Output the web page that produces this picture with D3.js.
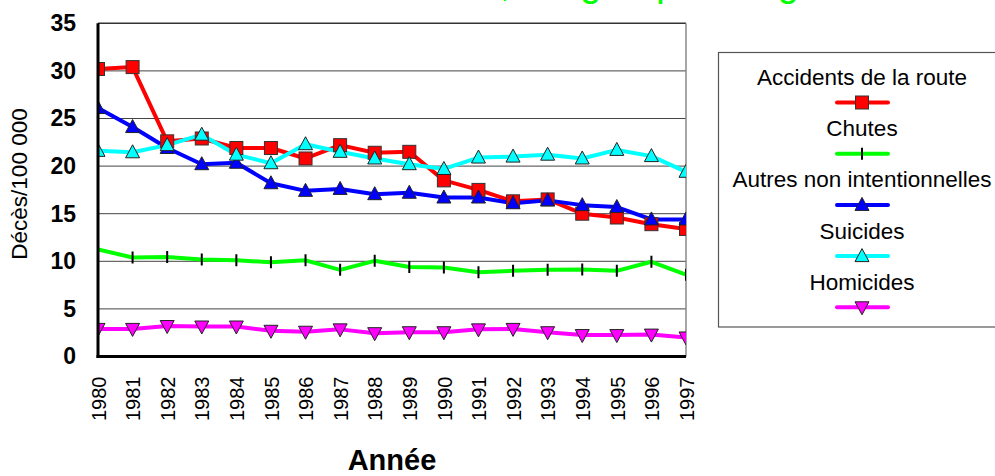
<!DOCTYPE html>
<html><head><meta charset="utf-8">
<script src="https://cdn.jsdelivr.net/npm/d3@7/dist/d3.min.js"></script>
<style>body{margin:0;background:#fff}svg{display:block}text{font-family:"Liberation Sans",Arial,sans-serif}</style>
</head><body>
<svg id="c" width="995" height="476"></svg>
<script>
const years = [1980,1981,1982,1983,1984,1985,1986,1987,1988,1989,1990,1991,1992,1993,1994,1995,1996,1997];
const accidentsRoute = [30.2,30.4,22.6,22.9,21.9,21.9,20.8,22.2,21.4,21.5,18.5,17.5,16.3,16.5,15.0,14.6,13.9,13.4];
const chutes = [11.25,10.4,10.45,10.2,10.1,9.9,10.1,9.1,10.05,9.4,9.35,8.85,9.0,9.1,9.15,9.0,9.95,8.6];
const autresNonIntent = [26.1,24.1,21.9,20.2,20.35,18.2,17.4,17.6,17.05,17.2,16.7,16.7,16.1,16.4,15.9,15.7,14.4,14.4];
const suicides = [21.6,21.45,22.2,23.3,21.2,20.3,22.3,21.5,20.8,20.2,19.7,20.9,21.0,21.2,20.8,21.7,21.05,19.4];
const homicides = [2.9,2.9,3.2,3.15,3.15,2.7,2.6,2.85,2.45,2.55,2.55,2.85,2.9,2.55,2.25,2.25,2.3,2.0];
const yTicks = [0,5,10,15,20,25,30,35];
const seriesNames = ["Accidents de la route","Chutes","Autres non intentionnelles","Suicides","Homicides"];
const titleText = "Décès dus aux blessures, les groupes d'âge";
const yTitle = "Décès/100 000";
const xTitle = "Année";

const series = [
  {name: seriesNames[0], values: accidentsRoute, color: "#ff0000", marker: "square"},
  {name: seriesNames[1], values: chutes, color: "#00ff00", marker: "tick"},
  {name: seriesNames[2], values: autresNonIntent, color: "#0000ff", marker: "up"},
  {name: seriesNames[3], values: suicides, color: "#00ffff", marker: "up"},
  {name: seriesNames[4], values: homicides, color: "#ff00ff", marker: "down"}
];

const svg = d3.select("#c");
const L = 98, R = 686, T = 23.3, B = 356.5;
const x = d3.scaleLinear().domain([years[0], years[years.length-1]]).range([L, R]);
const y = d3.scaleLinear().domain([0, 35]).range([B, T]);

// title (mostly cut off above the image, as in the reference)
const tt = svg.append("text").attr("y", -4).attr("font-size", 38).attr("fill", "#00ff00").text(titleText);
const ci = titleText.indexOf(",");
const pre = tt.node().getSubStringLength(0, ci);
tt.attr("x", 500 - pre);

// gridlines
svg.append("g").selectAll("line").data(yTicks.filter(d => d > 0 && d < 35)).join("line")
  .attr("x1", L).attr("x2", R).attr("y1", d => y(d)).attr("y2", d => y(d))
  .attr("stroke", "#444").attr("stroke-width", 1);
// frame
svg.append("line").attr("x1", L).attr("x2", R).attr("y1", y(35)).attr("y2", y(35)).attr("stroke", "#333").attr("stroke-width", 1.5);
svg.append("line").attr("x1", R).attr("x2", R).attr("y1", y(35)).attr("y2", B).attr("stroke", "#888").attr("stroke-width", 1.5);

// y axis labels
const yAxis = d3.axisLeft(y).tickValues(yTicks).tickSize(0).tickPadding(22).tickFormat(d3.format("d"));
const ya = svg.append("g").attr("transform", `translate(${L},0)`).call(yAxis);
ya.select(".domain").remove();
ya.selectAll("text").attr("font-size", 23).attr("font-weight", "bold").attr("fill", "#000")
  .style("font-family", '"Liberation Sans",Arial,sans-serif');

// x axis labels
const xAxis = d3.axisBottom(x).tickValues(years).tickSize(0).tickFormat(d3.format("d"));
const xa = svg.append("g").attr("transform", `translate(0,${B})`).call(xAxis);
xa.select(".domain").remove();
xa.selectAll("text").attr("font-size", 20).attr("fill", "#000")
  .style("font-family", '"Liberation Sans",Arial,sans-serif')
  .attr("text-anchor", "end").attr("transform", "rotate(-90)")
  .attr("x", -20).attr("y", 0).attr("dy", "0.36em");

// clip
svg.append("clipPath").attr("id", "clip").append("rect").attr("x", L).attr("y", T - 10).attr("width", R - L).attr("height", B - T + 10);

const plot = svg.append("g").attr("clip-path", "url(#clip)");
const line = d3.line().x((d, i) => x(years[i])).y(d => y(d));

function drawMarker(g, type, color, cx, cy) {
  if (type === "square") {
    g.append("rect").attr("x", cx - 6.5).attr("y", cy - 6.5).attr("width", 13).attr("height", 13)
      .attr("fill", color).attr("stroke", "#333").attr("stroke-width", 1);
  } else if (type === "tick") {
    g.append("line").attr("x1", cx).attr("x2", cx).attr("y1", cy - 6).attr("y2", cy + 6)
      .attr("stroke", "#000").attr("stroke-width", 2);
  } else if (type === "up") {
    g.append("path").attr("d", `M${cx},${cy - 7.5}L${cx + 7},${cy + 5.5}L${cx - 7},${cy + 5.5}Z`)
      .attr("fill", color).attr("stroke", "#222").attr("stroke-width", 1);
  } else if (type === "down") {
    g.append("path").attr("d", `M${cx},${cy + 7.5}L${cx + 7},${cy - 5.5}L${cx - 7},${cy - 5.5}Z`)
      .attr("fill", color).attr("stroke", "#222").attr("stroke-width", 1);
  }
}

series.forEach(s => {
  plot.append("path").datum(s.values).attr("d", line).attr("fill", "none")
    .attr("stroke", s.color).attr("stroke-width", 4).attr("stroke-linejoin", "round");
});
series.forEach(s => {
  const g = plot.append("g");
  s.values.forEach((v, i) => drawMarker(g, s.marker, s.color, x(years[i]), y(v)));
});

// axes lines
svg.append("line").attr("x1", L).attr("x2", L).attr("y1", y(35)).attr("y2", B + 1.5).attr("stroke", "#000").attr("stroke-width", 3);
svg.append("line").attr("x1", L - 1.5).attr("x2", R).attr("y1", B).attr("y2", B).attr("stroke", "#000").attr("stroke-width", 3);

// axis titles
svg.append("text").attr("transform", `translate(27,184) rotate(-90)`).attr("text-anchor", "middle")
  .attr("font-size", 22.5).text(yTitle);
svg.append("text").attr("x", 392).attr("y", 470).attr("text-anchor", "middle")
  .attr("font-size", 29).attr("font-weight", "bold").text(xTitle);

// legend
const lg = svg.append("g");
lg.append("rect").attr("x", 718.5).attr("y", 52.5).attr("width", 290).attr("height", 274.5)
  .attr("fill", "#fff").attr("stroke", "#555").attr("stroke-width", 1.2);
series.forEach((s, i) => {
  const ty = 85 + i * 51.2;
  lg.append("text").attr("x", 862).attr("y", ty).attr("text-anchor", "middle").attr("font-size", 22.5).text(s.name);
  const ly = ty + 17.5;
  lg.append("line").attr("x1", 837).attr("x2", 888).attr("y1", ly).attr("y2", ly)
    .attr("stroke", s.color).attr("stroke-width", 4).attr("stroke-linecap", "round");
  drawMarker(lg, s.marker, s.color, 862, ly);
});
</script>
</body></html>
